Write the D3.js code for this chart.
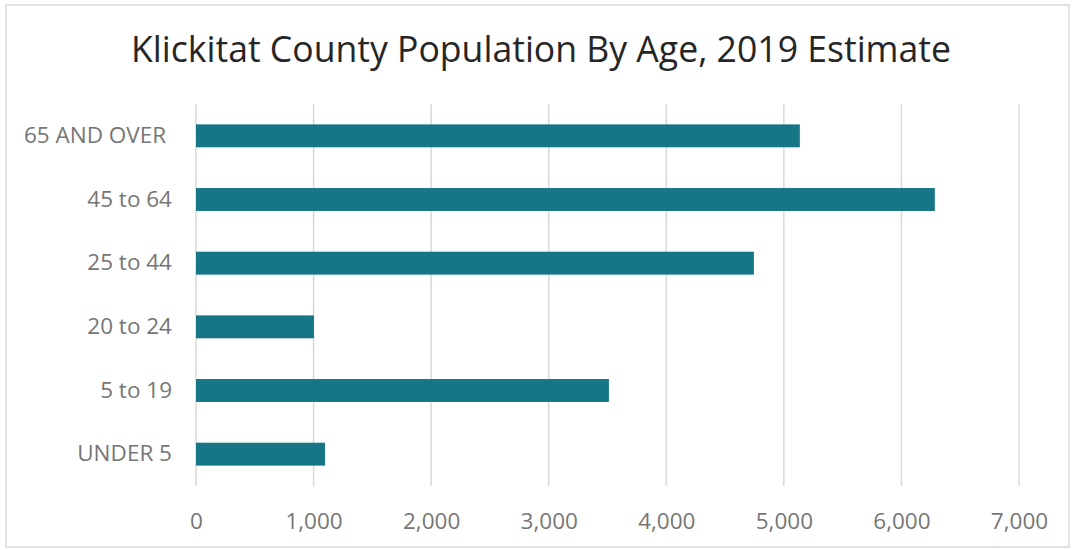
<!DOCTYPE html>
<html>
<head>
<meta charset="utf-8">
<script src="https://cdn.jsdelivr.net/npm/d3@7"></script>
<style>
  body { margin: 0; background: #fff; }
  svg { display: block; font-family: "Open Sans", sans-serif; }
</style>
</head>
<body>
<svg id="chart" width="1074" height="550"></svg>
<script>
// values
let title = "Klickitat County Population By Age, 2019 Estimate";
let ageGroups = ["65 AND OVER", "45 to 64", "25 to 44", "20 to 24", "5 to 19", "UNDER 5"];
let population = [5136, 6284, 4745, 1003, 3512, 1097];
let xTicks = [0, 1000, 2000, 3000, 4000, 5000, 6000, 7000];

const svg = d3.select("#chart");
let width = 1074, height = 550;
let margin = { top: 104, right: 55, bottom: 64, left: 196 };

// outer frame
svg.append("rect")
  .attr("x", 6).attr("y", 5)
  .attr("width", width - 11).attr("height", height - 8)
  .attr("fill", "#fff")
  .attr("stroke", "#d9d9d9")
  .attr("stroke-width", 1.5);

svg.append("text")
  .attr("x", 541).attr("y", 62)
  .attr("text-anchor", "middle")
  .attr("font-size", 35.6)
  .attr("fill", "#262626")
  .text(title);

let x = d3.scaleLinear()
  .domain([0, 7000])
  .range([margin.left, width - margin.right]);

let y = d3.scaleBand()
  .domain(ageGroups)
  .range([margin.top, height - margin.bottom])
  .paddingInner(0.64)
  .paddingOuter(0.32);

// grid lines
svg.append("g")
  .selectAll("line")
  .data(xTicks)
  .join("line")
  .attr("x1", d => x(d)).attr("x2", d => x(d))
  .attr("y1", margin.top).attr("y2", height - margin.bottom)
  .attr("stroke", "#d9d9d9")
  .attr("stroke-width", 1.5);

svg.append("g")
  .selectAll("rect")
  .data(population)
  .join("rect")
  .attr("x", x(0))
  .attr("y", (d, i) => y(ageGroups[i]))
  .attr("width", d => x(d) - x(0))
  .attr("height", y.bandwidth())
  .attr("fill", "#177685");

let xAxis = g => g
  .attr("transform", `translate(0,${height - margin.bottom})`)
  .call(d3.axisBottom(x).tickValues(xTicks).tickFormat(d3.format(",")).tickSize(0).tickPadding(27))
  .call(g => g.select(".domain").remove());

// the first label carries a trailing space in the original
let yAxis = g => g
  .attr("transform", `translate(${margin.left - 24},0)`)
  .call(d3.axisLeft(y).tickSize(0).tickPadding(0).tickFormat(d => d == "65 AND OVER" ? d + "\u00a0" : d))
  .call(g => g.select(".domain").remove());

svg.append("g").call(xAxis);
svg.append("g").call(yAxis);

svg.selectAll(".tick text")
  .attr("font-family", "Open Sans, sans-serif")
  .attr("font-size", 22.5)
  .attr("fill", "#767676");
</script>
</body>
</html>
